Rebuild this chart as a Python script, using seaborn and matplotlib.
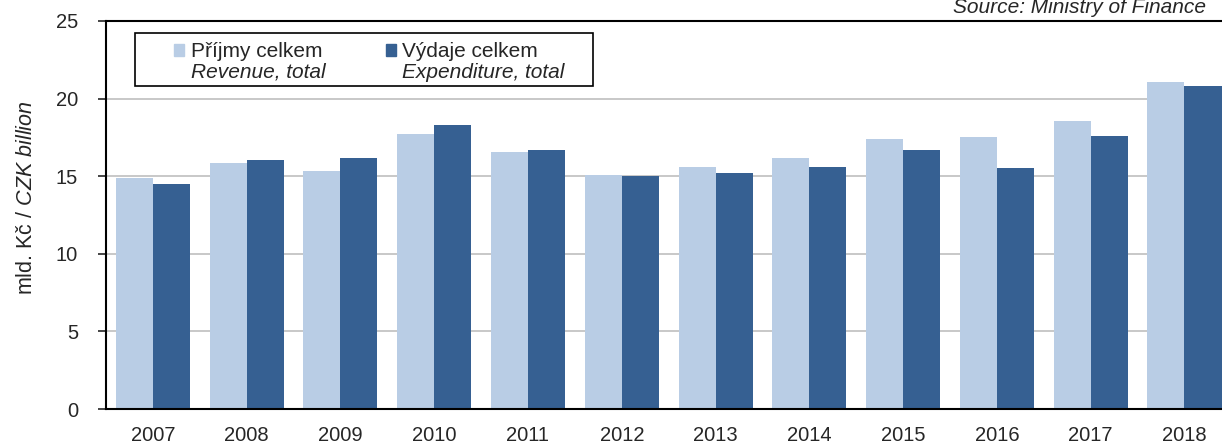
import numpy as np
import pandas as pd
import matplotlib
matplotlib.use("Agg")
import matplotlib.pyplot as plt
import seaborn as sns
from matplotlib.patches import Rectangle

# ============================================================
# DATA
# ============================================================

years = [str(y) for y in range(2007, 2019)]
revenue = [14.9, 15.85, 15.35, 17.7, 16.55, 15.05, 15.6, 16.2, 17.4, 17.5, 18.55, 21.05]
expenditure = [14.5, 16.05, 16.2, 18.3, 16.7, 15.0, 15.2, 15.6, 16.7, 15.55, 17.6, 20.8]

series_names = ["Příjmy celkem", "Výdaje celkem"]
series_en = ["Revenue, total", "Expenditure, total"]
colors = ["#B9CDE5", "#366092"]

df = pd.DataFrame({
    "year": years * 2,
    "value": revenue + expenditure,
    "series": [series_names[0]] * len(years) + [series_names[1]] * len(years),
})

# ============================================================
# PLOT
# ============================================================

sns.set_style("white")
plt.rcParams["font.family"] = ["Liberation Sans", "DejaVu Sans"]
plt.rcParams["mathtext.fontset"] = "custom"
plt.rcParams["mathtext.rm"] = "Liberation Sans"
plt.rcParams["mathtext.it"] = "Liberation Sans:italic"

fig = plt.figure(figsize=(12.22, 4.43), dpi=100)
ax = fig.add_axes([0.0867, 0.0767, 0.9133, 0.876])

sns.barplot(
    data=df, x="year", y="value", hue="series",
    palette=colors, width=0.79, saturation=1, linewidth=0,
    legend=False, ax=ax, zorder=2
)

ax.set_ylim(0, 25)
ax.set_xlim(-0.5, 11.4)
ax.set_yticks([0, 5, 10, 15, 20, 25])
ax.yaxis.grid(True, color="#BFBFBF", linewidth=1.2, zorder=0)
ax.set_axisbelow(True)

for side in ["left", "bottom", "top"]:
    ax.spines[side].set_visible(True)
    ax.spines[side].set_color("black")
    ax.spines[side].set_linewidth(1.5)
    ax.spines[side].set_zorder(4)
ax.spines["right"].set_visible(False)

ax.tick_params(axis="y", left=True, length=6, width=1.2, labelsize=14.5, pad=14)
ax.tick_params(axis="x", bottom=False, labelsize=14.5, pad=9)
ax.set_xlabel("")
ax.set_ylabel("mld. Kč / $\\it{CZK\\ billion}$", fontsize=15.5)
ax.yaxis.set_label_coords(-0.0618, 0.545)

# legend: two columns, second line of each entry italic, frame drawn separately
blank = Rectangle((0, 0), 1, 1, fill=False, edgecolor="none", visible=False)
handles = [
    Rectangle((0, 0), 1, 1, color=colors[0]), blank,
    Rectangle((0, 0), 1, 1, color=colors[1]), blank,
]
labels = [series_names[0], series_en[0], series_names[1], series_en[1]]
leg = fig.legend(
    handles, labels, ncol=2, loc="upper left",
    bbox_to_anchor=(0.1424, 0.905), frameon=False,
    fontsize=15, handlelength=0.5, handleheight=0.5,
    handletextpad=0.3, labelspacing=0.08, columnspacing=2.9,
    borderpad=0.0, borderaxespad=0.0
)
for i, t in enumerate(leg.get_texts()):
    if i % 2 == 1:
        t.set_fontstyle("italic")

fig.patches.append(Rectangle(
    (0.1105, 0.8059), 0.3748, 0.1196, transform=fig.transFigure,
    fill=False, edgecolor="black", linewidth=1.2, zorder=5
))

fig.text(0.987, 0.982, "Source: Ministry of Finance", ha="right", va="center",
         fontsize=15, style="italic")

plt.savefig("out.png", dpi=100)
